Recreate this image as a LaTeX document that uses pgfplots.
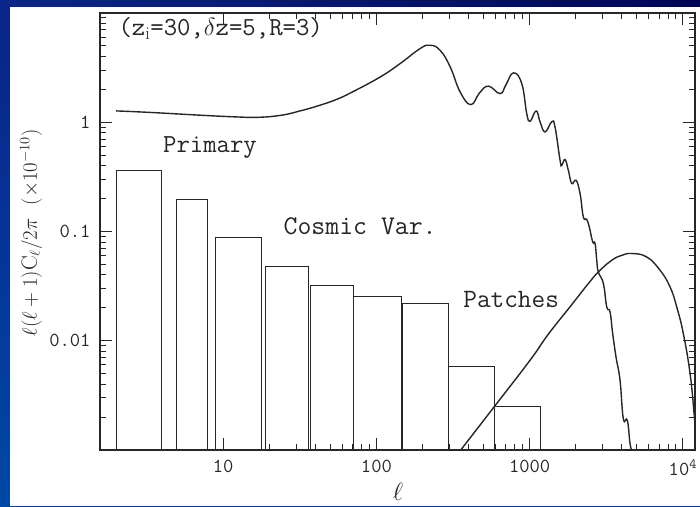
\documentclass[border=0pt]{standalone}
\usepackage{fontspec}
\usepackage{pgfplots}
\pgfplotsset{compat=1.18}
\begin{document}
\begin{tikzpicture}
\useasboundingbox (0,0) rectangle (700pt,506pt);
\shade[top color={rgb,255:red,10;green,35;blue,135}, bottom color={rgb,255:red,0;green,72;blue,165}] (0,0) rectangle (700pt,506pt);
\shade[left color={rgb,255:red,12;green,38;blue,135}, right color={rgb,255:red,0;green,5;blue,85}] (0,498.7pt) rectangle (700pt,506pt);
\fill[white] (10pt,0) rectangle (700pt,498.7pt);
\begin{axis}[
  at={(100pt,56pt)}, anchor=south west,
  scale only axis, width=595pt, height=437pt,
  xmode=log, ymode=log,
  xmin=1.57, xmax=12000, ymin=0.001, ymax=10,
  xtick={10,100,1000,10000},
  xticklabels={10,100,1000,10\textsuperscript{4}},
  ytick={0.001,0.01,0.1,1,10},
  yticklabels={,0.01,0.1,1,},
  major tick length=12pt, minor tick length=6pt,
  tick style={line width=1pt, black!85},
  axis line style={line width=1.2pt, black!85},
  ticklabel style={font=\fontsize{20}{20}\selectfont\ttfamily, text=black!85},
  xticklabel style={yshift=-6pt},
  yticklabel style={xshift=-6pt},
]
% bars (cosmic variance)
\addplot[black!85, line width=1pt] coordinates {(2,0.001) (2,0.363) (3.94,0.363) (3.94,0.001)};
\addplot[black!85, line width=1pt] coordinates {(4.93,0.001) (4.93,0.197) (7.9,0.197) (7.9,0.001)};
\addplot[black!85, line width=1pt] coordinates {(8.87,0.001) (8.87,0.0873) (17.9,0.0873) (17.9,0.001)};
\addplot[black!85, line width=1pt] coordinates {(18.8,0.001) (18.8,0.0478) (35.8,0.0478) (35.8,0.001)};
\addplot[black!85, line width=1pt] coordinates {(36.9,0.001) (36.9,0.0318) (70.5,0.0318) (70.5,0.001)};
\addplot[black!85, line width=1pt] coordinates {(71,0.001) (71,0.0254) (146.6,0.0254) (146.6,0.001)};
\addplot[black!85, line width=1pt] coordinates {(147,0.001) (147,0.0220) (295,0.0220) (295,0.001)};
\addplot[black!85, line width=1pt] coordinates {(296,0.001) (296,0.00585) (589,0.00585) (589,0.001)};
\addplot[black!85, line width=1pt] coordinates {(590,0.001) (590,0.00251) (1170,0.00251) (1170,0.001)};
% primary
\addplot[black!85, line width=1.4pt, smooth, tension=0.75] coordinates {
(2,1.27) (3.34,1.23) (7.1,1.16) (12,1.12) (17,1.11) (24,1.16) (31.8,1.27) (42,1.42) (55,1.62) (70,1.90)
(106,2.60) (143,3.45) (193,4.73) (224,5.07) (260,4.56) (303,3.21) (352,1.89) (413,1.45)
(470,1.85) (538,2.14) (641,1.83) (700,2.2) (783,2.83) (888,2.26) (957,1.20) (1006,1.02)
(1102,1.27) (1169,1.01) (1260,0.815) (1393,1.01) (1464,0.906) (1579,0.449) (1620,0.404)
(1701,0.456) (1788,0.364) (1882,0.275) (2009,0.294) (2133,0.222) (2241,0.136) (2357,0.129)
(2450,0.110) (2580,0.0802) (2672,0.0776) (2741,0.0546) (2806,0.0426) (3027,0.0334)
(3185,0.0204) (3345,0.0184) (3483,0.0116) (3661,0.00711) (3889,0.00435) (4085,0.00194)
(4338,0.00187) (4517,0.00115) (4630,0.000995)
};
% patches
\addplot[black!85, line width=1.4pt, smooth, tension=0.75] coordinates {
(355,0.001) (600,0.00259) (1000,0.00656) (1325,0.0115) (1837,0.0205) (2400,0.033)
(2806,0.0426) (3437,0.0546) (4000,0.0605) (4630,0.0629) (5806,0.0585) (7094,0.0442)
(8245,0.0311) (9116,0.0204) (10070,0.0116) (11140,0.00501) (11830,0.00216) (12200,0.00123)
};
\node[font=\fontsize{26}{26}\selectfont\ttfamily, text=black!85, anchor=west, inner sep=0pt] at (axis cs:2.07,7.25) {(z$_{\rm i}$=30,$\delta$z=5,R=3)};
\node[font=\fontsize{26}{26}\selectfont\ttfamily, text=black!85] at (axis cs:8.2,0.59) {Primary};
\node[font=\fontsize{27}{27}\selectfont\ttfamily, text=black!85] at (axis cs:78.3,0.112) {Cosmic Var.};
\node[font=\fontsize{26.5}{26.5}\selectfont\ttfamily, text=black!85] at (axis cs:757,0.024) {Patches};
\end{axis}
\node[rotate=90, font=\fontsize{22}{22}\selectfont, text=black!85] at (31pt,273pt) {$\ell(\ell+1)\mathrm{C}_\ell/2\pi$\ \ $(\times10^{-10})$};
\node[font=\fontsize{24}{24}\selectfont, text=black!85] at (398pt,14pt) {$\ell$};
\end{tikzpicture}
\end{document}
